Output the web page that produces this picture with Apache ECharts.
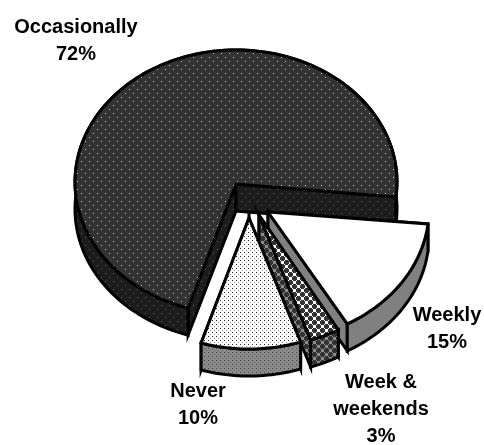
<!DOCTYPE html>
<html><head><meta charset="utf-8">
<style>html,body{margin:0;padding:0;background:#fff}#c{width:484px;height:445px}</style>
<script src="https://cdn.jsdelivr.net/npm/echarts@6/dist/echarts.min.js"></script>
</head><body><div id="c"></div>
<script>
const categories = ['Occasionally','Weekly','Week &\nweekends','Never'];
const percents = [72,15,3,10];

// layout (style only, not data)
const startAngle = 96.5, rx = 161, ry = 132, depth = 27;
const apexes = [[236,184],[268,212],[259,215],[249,218]];
const arcShift = [-2,-3,0,-1];
const labelPos = [[76,27],[447,315],[381,382],[198,391]];
const lineGap = 27, fontPx = 20;

function tile(size, bg, draw){
  const c = document.createElement('canvas'); c.width = c.height = size;
  const g = c.getContext('2d'); g.fillStyle = bg; g.fillRect(0,0,size,size); draw(g);
  return {image:c, repeat:'repeat'};
}
function dots(size, bg, list){
  return tile(size,bg,g=>list.forEach(d=>{g.fillStyle=d[2];g.fillRect(d[0],d[1],1,1);}));
}
function crosses(bg, fg){
  return tile(8,bg,g=>{
    g.fillStyle=fg;
    [[2,2],[6,6]].forEach(([x,y])=>{
      for(const [dx,dy,w,h] of [[-1,-2,3,5],[-2,-1,5,3]]){
        for(const ox of [0,8,-8]) for(const oy of [0,8,-8]) g.fillRect(x+dx+ox,y+dy+oy,w,h);
      }
    });
  });
}
const topFill = [
  dots(8,'#333333',[[1,1,'#d0d0d0'],[5,5,'#c0c0c0']]),
  '#ffffff',
  crosses('#ffffff','#333333'),
  dots(4,'#ffffff',[[0,0,'#222222'],[2,2,'#999999']])
];
const sideFill = [
  dots(8,'#1c1c1c',[[1,1,'#666666'],[5,5,'#555555']]),
  '#808080',
  crosses('#8c8c8c','#333333'),
  dots(4,'#8a8a8a',[[0,0,'#444444'],[2,2,'#666666']])
];

function pt(c,t,shift){
  const r=t*Math.PI/180;
  return [c[0]+rx*Math.sin(r), c[1]+shift-ry*Math.cos(r)];
}
const total = percents.reduce((a,b)=>a+b,0);
const stroke = {stroke:'#000',lineWidth:3,lineJoin:'miter'};

function renderItem(params, api){
  const i = params.dataIndex, v = api.value(0);
  // angle runs clockwise; the big slice starts where the last small one ends
  const before = [];
  let acc = 0;
  for(const k of [1,2,3,0]){ before[k]=acc; acc+=percents[k]; }
  const from = startAngle + before[i]/total*360;
  const to = from + v/total*360;
  const c = apexes[i];
  const arc=[]; for(let t=from;t<to;t+=1.5) arc.push(pt(c,t,arcShift[i])); arc.push(pt(c,to,arcShift[i]));
  const arcLow = arc.map(p=>[p[0],p[1]+depth]);
  const cLow=[c[0],c[1]+depth];
  const side=sideFill[i], top=topFill[i];
  const kids=[];
  const poly=(pts,fill)=>kids.push({type:'polygon',shape:{points:pts},style:Object.assign({fill},stroke)});
  poly([c,arc[0],arcLow[0],cLow],side);
  poly([c,arc[arc.length-1],arcLow[arc.length-1],cLow],side);
  poly(arc.concat(arcLow.slice().reverse()),side);
  poly([c].concat(arc),top);
  const lines=(categories[i]+'\n'+v+'%').split('\n');
  lines.forEach((s,n)=>kids.push({type:'text',z2:10,style:{
    text:s,x:labelPos[i][0],y:labelPos[i][1]+n*lineGap,align:'center',verticalAlign:'middle',
    font:'bold '+fontPx+'px "Liberation Sans", Arial, sans-serif',fill:'#000'}}));
  return {type:'group',children:kids};
}
const chart = echarts.init(document.getElementById('c'),null,{renderer:'canvas'});
chart.setOption({
  animation:false,
  backgroundColor:'#fff',
  series:[{type:'custom',coordinateSystem:'none',renderItem,silent:true,
    data:categories.map((n,i)=>({name:n,value:[percents[i]]}))}]
});
</script></body></html>
